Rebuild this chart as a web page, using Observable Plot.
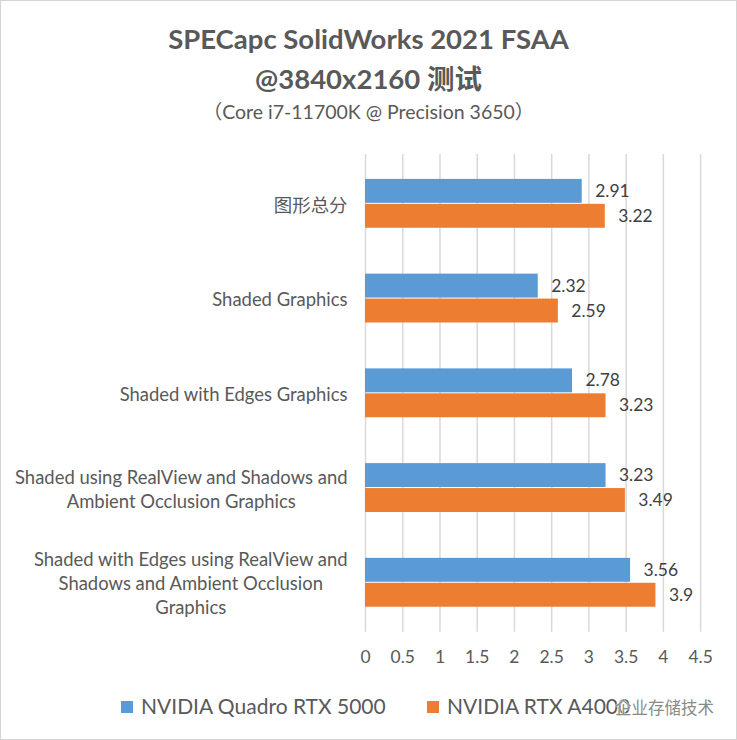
<!DOCTYPE html>
<html>
<head>
<meta charset="utf-8">
<script src="https://cdn.jsdelivr.net/npm/d3@7"></script>
<script src="https://cdn.jsdelivr.net/npm/@observablehq/plot@0.6"></script>
<style>
  html, body { margin: 0; padding: 0; background: #fff; }
  #wrap { position: relative; width: 737px; height: 740px; box-sizing: border-box; border: 1px solid #d4d4d4; font-family: Lato, "Noto Sans", sans-serif; color: #595959; overflow: hidden; }
  #t1, #t2, #sub { position: absolute; left: 0; width: 100%; text-align: center; white-space: nowrap; }
  #t1 { top: 21px; font-size: 27.5px; font-weight: bold; }
  #t2 { top: 56px; font-size: 27.5px; font-weight: bold; font-family: Lato, "Noto Sans CJK SC", sans-serif; }
  #sub { top: 95px; font-size: 19.5px; font-family: Lato, "Noto Sans CJK SC", sans-serif; }
  #chart { position: absolute; left: 0; top: 140px; }
  .leg { position: absolute; top: 692px; font-size: 21px; white-space: nowrap; color: #595959; }
  .sw { display: inline-block; width: 12px; height: 12px; margin-right: 8px; vertical-align: 1px; }
  #wm { position: absolute; left: 614px; top: 694px; font-size: 16.5px; color: #8a8a8a; font-family: "Noto Sans CJK SC", sans-serif; text-shadow: 0 0 2px #fff, 0 0 2px #fff; white-space: nowrap; }
</style>
</head>
<body>
<div id="wrap">
  <div id="t1">SPECapc SolidWorks 2021 FSAA</div>
  <div id="t2">@3840x2160 测试</div>
  <div id="sub">（Core i7-11700K @ Precision 3650）</div>
  <div id="chart"></div>
  <div class="leg" id="leg1" style="left:120px"><span class="sw" style="background:#5B9BD5"></span>NVIDIA Quadro RTX 5000</div>
  <div class="leg" id="leg2" style="left:426px"><span class="sw" style="background:#ED7D31"></span>NVIDIA RTX A4000</div>
  <div id="wm">企业存储技术</div>
</div>
<script>
const categories = [
  "图形总分",
  "Shaded Graphics",
  "Shaded with Edges Graphics",
  "Shaded using RealView and Shadows and\nAmbient Occlusion Graphics",
  "Shaded with Edges using RealView and\nShadows and Ambient Occlusion\nGraphics"
];
const seriesNames = ["NVIDIA Quadro RTX 5000", "NVIDIA RTX A4000"];
const quadroValues = [2.91, 2.32, 2.78, 3.23, 3.56];
const a4000Values = [3.22, 2.59, 3.23, 3.49, 3.9];
const xTicks = [0, 0.5, 1, 1.5, 2, 2.5, 3, 3.5, 4, 4.5];
const colors = ["#5B9BD5", "#ED7D31"];

const quadro = categories.map((c, i) => ({category: c, value: quadroValues[i]}));
const a4000 = categories.map((c, i) => ({category: c, value: a4000Values[i]}));

const half = 25;
const chart = Plot.plot({
  width: 737,
  height: 540,
  marginTop: 13,
  marginBottom: 48,
  marginLeft: 365,
  marginRight: 36,
  style: {fontFamily: "Lato, 'Noto Sans CJK SC', sans-serif", color: "#595959", background: "transparent"},
  x: {domain: [0, 4.5], ticks: xTicks, label: null},
  y: {domain: categories, paddingInner: 0.48, paddingOuter: 0.24, label: null},
  marks: [
    Plot.gridX(xTicks, {stroke: "#d9d9d9", strokeOpacity: 1, strokeWidth: 1.5}),
    Plot.barX(quadro, {x: "value", y: "category", fill: colors[0], insetBottom: half}),
    Plot.barX(a4000, {x: "value", y: "category", fill: colors[1], insetTop: half}),
    Plot.text(quadro, {x: "value", y: "category", text: d => String(d.value), dx: 13, dy: -12.5, textAnchor: "start", fontSize: 17.5, fill: "#404040"}),
    Plot.text(a4000, {x: "value", y: "category", text: d => String(d.value), dx: 13, dy: 12.5, textAnchor: "start", fontSize: 17.5, fill: "#404040"}),
    Plot.axisX({ticks: xTicks, tickFormat: d => String(d), tickSize: 0, tickPadding: 18, fontSize: 17.5, fill: "#595959", label: null}),
    Plot.axisY({tickSize: 0, tickPadding: 18, fontSize: 18.5, lineHeight: 1.3, fill: "#595959", label: null})
  ]
});
document.getElementById("chart").appendChild(chart);

// Center the lines of multi-line category labels within their right-aligned block
chart.querySelectorAll('g[aria-label="y-axis tick label"] text').forEach(t => {
  const spans = t.querySelectorAll("tspan");
  if (spans.length < 2) return;
  let w = 0;
  spans.forEach(s => { w = Math.max(w, s.getComputedTextLength()); });
  t.setAttribute("text-anchor", "middle");
  spans.forEach(s => s.setAttribute("x", String(-w / 2)));
});
</script>
</body>
</html>
